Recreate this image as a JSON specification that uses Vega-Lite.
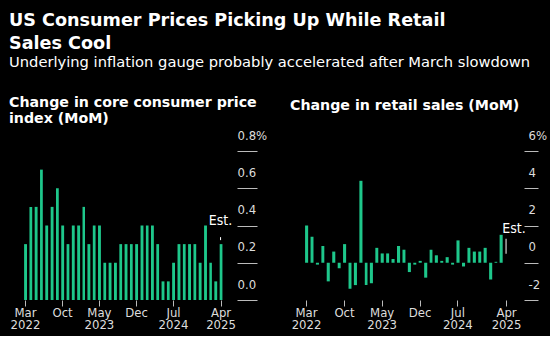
{
  "$schema": "https://vega.github.io/schema/vega-lite/v6.json",
  "background": "#000000",
  "padding": {"left": 9, "top": 11, "right": 4, "bottom": 4},
  "bounds": "flush",
  "spacing": 46,
  "title": {
    "text": ["US Consumer Prices Picking Up While Retail", "Sales Cool"],
    "subtitle": "Underlying inflation gauge probably accelerated after March slowdown",
    "anchor": "start",
    "frame": "group",
    "dx": -13,
    "font": "DejaVu Sans",
    "fontSize": 17.6,
    "fontWeight": "bold",
    "color": "#ffffff",
    "lineHeight": 23,
    "subtitleFont": "DejaVu Sans",
    "subtitleFontSize": 14.7,
    "subtitleColor": "#ffffff",
    "subtitlePadding": 3,
    "offset": 26
  },
  "datasets": {
    "cpi": [
      {"date": "2022-03-01", "value": 0.3}, {"date": "2022-04-01", "value": 0.5}, {"date": "2022-05-01", "value": 0.5},
      {"date": "2022-06-01", "value": 0.7}, {"date": "2022-07-01", "value": 0.4}, {"date": "2022-08-01", "value": 0.5},
      {"date": "2022-09-01", "value": 0.6}, {"date": "2022-10-01", "value": 0.4}, {"date": "2022-11-01", "value": 0.3},
      {"date": "2022-12-01", "value": 0.4}, {"date": "2023-01-01", "value": 0.4}, {"date": "2023-02-01", "value": 0.5},
      {"date": "2023-03-01", "value": 0.3}, {"date": "2023-04-01", "value": 0.4}, {"date": "2023-05-01", "value": 0.4},
      {"date": "2023-06-01", "value": 0.2}, {"date": "2023-07-01", "value": 0.2}, {"date": "2023-08-01", "value": 0.2},
      {"date": "2023-09-01", "value": 0.3}, {"date": "2023-10-01", "value": 0.3}, {"date": "2023-11-01", "value": 0.3},
      {"date": "2023-12-01", "value": 0.3}, {"date": "2024-01-01", "value": 0.4}, {"date": "2024-02-01", "value": 0.4},
      {"date": "2024-03-01", "value": 0.4}, {"date": "2024-04-01", "value": 0.3}, {"date": "2024-05-01", "value": 0.1},
      {"date": "2024-06-01", "value": 0.1}, {"date": "2024-07-01", "value": 0.2}, {"date": "2024-08-01", "value": 0.3},
      {"date": "2024-09-01", "value": 0.3}, {"date": "2024-10-01", "value": 0.3}, {"date": "2024-11-01", "value": 0.3},
      {"date": "2024-12-01", "value": 0.2}, {"date": "2025-01-01", "value": 0.4}, {"date": "2025-02-01", "value": 0.2},
      {"date": "2025-03-01", "value": 0.1}, {"date": "2025-04-01", "value": 0.3, "note": "Est."}
    ],
    "retail": [
      {"date": "2022-03-01", "value": 2.0}, {"date": "2022-04-01", "value": 1.4}, {"date": "2022-05-01", "value": -0.1},
      {"date": "2022-06-01", "value": 0.9}, {"date": "2022-07-01", "value": -1.0}, {"date": "2022-08-01", "value": 0.6},
      {"date": "2022-09-01", "value": -0.3}, {"date": "2022-10-01", "value": 1.0}, {"date": "2022-11-01", "value": -1.4},
      {"date": "2022-12-01", "value": -1.2}, {"date": "2023-01-01", "value": 4.4}, {"date": "2023-02-01", "value": -1.2},
      {"date": "2023-03-01", "value": -1.1}, {"date": "2023-04-01", "value": 0.8}, {"date": "2023-05-01", "value": 0.5},
      {"date": "2023-06-01", "value": 0.5}, {"date": "2023-07-01", "value": 0.2}, {"date": "2023-08-01", "value": 0.9},
      {"date": "2023-09-01", "value": 0.7}, {"date": "2023-10-01", "value": -0.5}, {"date": "2023-11-01", "value": -0.1},
      {"date": "2023-12-01", "value": 0.1}, {"date": "2024-01-01", "value": -0.8}, {"date": "2024-02-01", "value": 0.7},
      {"date": "2024-03-01", "value": 0.4}, {"date": "2024-04-01", "value": 0.1}, {"date": "2024-05-01", "value": 0.3},
      {"date": "2024-06-01", "value": -0.1}, {"date": "2024-07-01", "value": 1.2}, {"date": "2024-08-01", "value": -0.2},
      {"date": "2024-09-01", "value": 0.8}, {"date": "2024-10-01", "value": 0.6}, {"date": "2024-11-01", "value": 0.6},
      {"date": "2024-12-01", "value": 0.8}, {"date": "2025-01-01", "value": -0.9}, {"date": "2025-02-01", "value": 0.05},
      {"date": "2025-03-01", "value": 1.5}, {"date": "2025-04-01", "value": 0.0, "note": "Est."}
    ]
  },
  "hconcat": [
    {
      "width": 235,
      "height": 149,
      "title": {
        "text": ["Change in core consumer price", "index (MoM)"],
        "anchor": "start",
        "frame": "group",
        "dx": -13,
        "font": "DejaVu Sans",
        "fontSize": 14.2,
        "fontWeight": "bold",
        "color": "#ffffff",
        "lineHeight": 16,
        "offset": 3
      },
      "data": {"name": "cpi"},
      "encoding": {
        "x": {
          "field": "date",
          "timeUnit": "utcyearmonth",
          "type": "temporal",
          "title": null,
          "scale": {"domain": [{"year": 2022, "month": 2, "date": 27, "utc": true}, {"year": 2025, "month": 11, "date": 12, "utc": true}]},
          "axis": {
            "values": [
              {"year": 2022, "month": 3, "date": 16, "utc": true},
              {"year": 2022, "month": 10, "date": 16, "utc": true},
              {"year": 2023, "month": 5, "date": 16, "utc": true},
              {"year": 2023, "month": 12, "date": 16, "utc": true},
              {"year": 2024, "month": 7, "date": 16, "utc": true},
              {"year": 2025, "month": 4, "date": 16, "utc": true}
            ],
            "tickCount": 12,
            "labelOverlap": false,
            "labelExpr": "[utcFormat(datum.value, '%b'), (utcmonth(datum.value) == 9 || utcmonth(datum.value) == 11) ? '' : utcFormat(datum.value, '%Y')]"
          }
        }
      },
      "layer": [
        {
          "mark": {"type": "bar", "color": "#1ec78b", "width": {"band": 0.72}},
          "encoding": {
            "y": {
              "field": "value",
              "type": "quantitative",
              "title": null,
              "scale": {"domain": [0, 0.8], "nice": false},
              "axis": {
                "orient": "right",
                "offset": -20,
                "tickSize": 20,
                "values": [0, 0.2, 0.4, 0.6, 0.8],
                "tickCount": 10,
                "labelOverlap": false,
                "labelPadding": -20,
                "labelExpr": "datum.value > 0.75 ? format(datum.value, '.1f') + '%' : format(datum.value, '.1f')"
              }
            }
          }
        },
        {
          "mark": {"type": "rule", "color": "#777777", "strokeWidth": 1},
          "encoding": {"y": {"datum": 0}}
        },
        {
          "transform": [{"filter": "datum.note != null"}],
          "mark": {"type": "text", "color": "#ffffff", "font": "DejaVu Sans Condensed, Liberation Sans Narrow, DejaVu Sans", "fontSize": 14, "align": "center", "baseline": "alphabetic", "dy": -19},
          "encoding": {
            "x": {"field": "date", "timeUnit": "utcyearmonth", "type": "temporal", "bandPosition": 0.5},
            "y": {"field": "value", "type": "quantitative"},
            "text": {"field": "note"}
          }
        },
        {
          "transform": [{"filter": "datum.note != null"}],
          "mark": {"type": "rule", "color": "#ffffff", "strokeWidth": 1, "yOffset": -7, "y2Offset": -4},
          "encoding": {
            "x": {"field": "date", "timeUnit": "utcyearmonth", "type": "temporal", "bandPosition": 0.5},
            "y": {"field": "value", "type": "quantitative"},
            "y2": {"field": "value"}
          }
        }
      ]
    },
    {
      "width": 235,
      "height": 149,
      "title": {
        "text": "Change in retail sales (MoM)",
        "anchor": "start",
        "frame": "group",
        "dx": -13,
        "font": "DejaVu Sans",
        "fontSize": 14.2,
        "fontWeight": "bold",
        "color": "#ffffff",
        "offset": 16
      },
      "data": {"name": "retail"},
      "encoding": {
        "x": {
          "field": "date",
          "timeUnit": "utcyearmonth",
          "type": "temporal",
          "title": null,
          "scale": {"domain": [{"year": 2022, "month": 2, "date": 27, "utc": true}, {"year": 2025, "month": 10, "date": 13, "utc": true}]},
          "axis": {
            "values": [
              {"year": 2022, "month": 3, "date": 16, "utc": true},
              {"year": 2022, "month": 10, "date": 16, "utc": true},
              {"year": 2023, "month": 5, "date": 16, "utc": true},
              {"year": 2023, "month": 12, "date": 16, "utc": true},
              {"year": 2024, "month": 7, "date": 16, "utc": true},
              {"year": 2025, "month": 4, "date": 16, "utc": true}
            ],
            "tickCount": 12,
            "labelOverlap": false,
            "labelExpr": "[utcFormat(datum.value, '%b'), (utcmonth(datum.value) == 9 || utcmonth(datum.value) == 11) ? '' : utcFormat(datum.value, '%Y')]"
          }
        }
      },
      "layer": [
        {
          "mark": {"type": "bar", "color": "#1ec78b", "width": {"band": 0.74}},
          "encoding": {
            "y": {
              "field": "value",
              "type": "quantitative",
              "title": null,
              "scale": {"domain": [-2, 6], "nice": false},
              "axis": {
                "orient": "right",
                "offset": -14,
                "tickSize": 14,
                "values": [-2, 0, 2, 4, 6],
                "tickCount": 10,
                "labelOverlap": false,
                "labelPadding": -10,
                "labelExpr": "datum.value > 5 ? toString(datum.value) + '%' : toString(datum.value)"
              }
            }
          }
        },
        {
          "mark": {"type": "rule", "color": "#777777", "strokeWidth": 1},
          "encoding": {"y": {"datum": 0}}
        },
        {
          "transform": [{"filter": "datum.note != null"}],
          "mark": {"type": "text", "color": "#ffffff", "font": "DejaVu Sans Condensed, Liberation Sans Narrow, DejaVu Sans", "fontSize": 14, "align": "center", "baseline": "alphabetic", "dy": -30, "dx": 8},
          "encoding": {
            "x": {"field": "date", "timeUnit": "utcyearmonth", "type": "temporal", "bandPosition": 0.5},
            "y": {"field": "value", "type": "quantitative"},
            "text": {"field": "note"}
          }
        },
        {
          "transform": [{"filter": "datum.note != null"}],
          "mark": {"type": "rule", "color": "#ffffff", "strokeWidth": 1, "yOffset": -24, "y2Offset": -9},
          "encoding": {
            "x": {"field": "date", "timeUnit": "utcyearmonth", "type": "temporal", "bandPosition": 0.5},
            "y": {"field": "value", "type": "quantitative"},
            "y2": {"field": "value"}
          }
        }
      ]
    }
  ],
  "config": {
    "view": {"stroke": null},
    "axis": {
      "domain": false,
      "grid": false,
      "labelColor": "#dddddd",
      "labelFont": "DejaVu Sans Condensed, Liberation Sans Narrow, DejaVu Sans",
      "labelFontSize": 13,
      "labelFlush": false,
      "labelOverlap": false,
      "tickColor": "#bbbbbb"
    },
    "axisX": {
      "tickSize": 6,
      "labelPadding": 0,
      "labelLineHeight": 12.5
    },
    "axisY": {
      "labelAlign": "left",
      "labelBaseline": "alphabetic",
      "labelOffset": -12,
      "zindex": 0
    }
  }
}
